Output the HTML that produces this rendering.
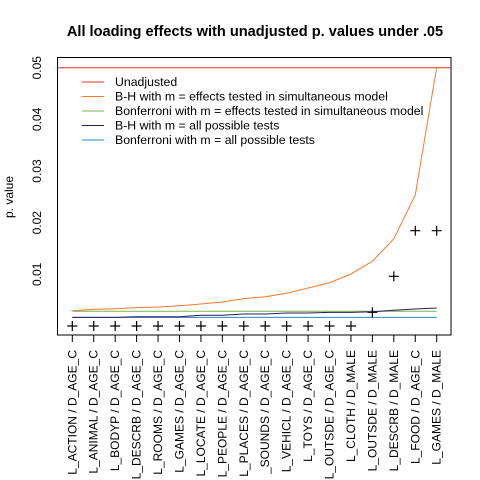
<!DOCTYPE html>
<html><head><meta charset="utf-8"><style>
body{margin:0;background:#fff}
svg{display:block;font-family:"Liberation Sans",Arial,sans-serif}
</style></head><body>
<svg id="chart" width="480" height="480">
<text x="255" y="36" text-anchor="middle" font-size="14.6" font-weight="bold">All loading effects with unadjusted p. values under .05</text>
<rect x="57.5" y="57.5" width="393.5" height="277.5" fill="none" stroke="#000"/>
<text transform="translate(13,197) rotate(-90)" text-anchor="middle" font-size="12">p. value</text>
<g id="yt"></g><g id="xt"></g><g id="marks"></g>
<g font-size="12.3">
<line x1="82" y1="82" x2="104" y2="82" stroke="#e8312a"/><text x="115" y="86">Unadjusted</text>
<line x1="82" y1="96.5" x2="104" y2="96.5" stroke="#f47a30"/><text x="115" y="100.5">B-H with m = effects tested in simultaneous model</text>
<line x1="82" y1="111" x2="104" y2="111" stroke="#7ab648"/><text x="115" y="115">Bonferroni with m = effects tested in simultaneous model</text>
<line x1="82" y1="125.5" x2="104" y2="125.5" stroke="#2e1a5e"/><text x="115" y="129.5">B-H with m = all possible tests</text>
<line x1="82" y1="140" x2="104" y2="140" stroke="#1f8ac9"/><text x="115" y="144">Bonferroni with m = all possible tests</text>
</g>
</svg>
<script>
const categories=["L_ACTION / D_AGE_C","L_ANIMAL / D_AGE_C","L_BODYP / D_AGE_C","L_DESCRB / D_AGE_C","L_ROOMS / D_AGE_C","L_GAMES / D_AGE_C","L_LOCATE / D_AGE_C","L_PEOPLE / D_AGE_C","L_PLACES / D_AGE_C","_SOUNDS / D_AGE_C","L_VEHICL / D_AGE_C","L_TOYS / D_AGE_C","L_OUTSDE / D_AGE_C","L_CLOTH / D_MALE","L_OUTSDE / D_MALE","L_DESCRB / D_MALE","L_FOOD / D_AGE_C","L_GAMES / D_MALE"];
const unadjustedP=[0,0,0,0,0,0,0,0,0,0,0,0,0,0,0.00265,0.00962,0.01845,0.01845];
const bhModel=[0.00296,0.00323,0.00335,0.00354,0.00368,0.00393,0.00426,0.00465,0.00529,0.00567,0.00633,0.00736,0.00838,0.01007,0.01253,0.0169,0.02536,0.0501];
const bhAll=[0.00168,0.00168,0.00168,0.0018,0.0018,0.0018,0.00207,0.00207,0.00232,0.00232,0.00252,0.00252,0.00265,0.00265,0.00277,0.00304,0.00329,0.00348];
const unadjThreshold=0.05;
const bonfModel=0.00285;
const bonfAll=0.00168;
const yTicks=[0.01,0.02,0.03,0.04,0.05];
const yTickLabels=["0.01","0.02","0.03","0.04","0.05"];
const NS="http://www.w3.org/2000/svg";
const X=i=>72.3+i*(436.7-72.3)/(categories.length-1);
const Y=v=>326-v*5165;
function mk(tag,attrs,parent){const e=document.createElementNS(NS,tag);for(const k in attrs)e.setAttribute(k,attrs[k]);parent.appendChild(e);return e;}
const yt=document.getElementById('yt'),xt=document.getElementById('xt'),mg=document.getElementById('marks');
yTicks.forEach((v,i)=>{const t=mk('text',{transform:`translate(41,${Y(v)}) rotate(-90)`,'text-anchor':'middle','font-size':'12'},yt);t.textContent=yTickLabels[i];

});
categories.forEach((c,i)=>{const l=mk('line',{x1:X(i),x2:X(i),y1:335,y2:342,stroke:'#000'},xt);


const t=mk('text',{transform:`translate(${X(i)+4},350) rotate(-90)`,'text-anchor':'end','font-size':'12'},xt);t.textContent=c;

});
const h1=mk('line',{x1:57.5,x2:451,y1:Y(unadjThreshold),y2:Y(unadjThreshold),stroke:'#e8312a'},mg);


const h2=mk('line',{x1:X(0),x2:X(categories.length-1),y1:Y(bonfModel),y2:Y(bonfModel),stroke:'#7ab648'},mg);


const h3=mk('line',{x1:X(0),x2:X(categories.length-1),y1:Y(bonfAll),y2:Y(bonfAll),stroke:'#1f8ac9'},mg);


const p1=mk('polyline',{points:bhAll.map((v,i)=>X(i)+','+Y(v)).join(' '),fill:'none',stroke:'#2e1a5e'},mg);


const p2=mk('polyline',{points:bhModel.map((v,i)=>X(i)+','+Y(v)).join(' '),fill:'none',stroke:'#f47a30'},mg);


unadjustedP.forEach((v,i)=>{const t=mk('path',{d:`M${X(i)-5},${Y(v)}h10M${X(i)},${Y(v)-5}v10`,stroke:'#000','stroke-width':1.2},mg);

});
</script>
</body></html>
